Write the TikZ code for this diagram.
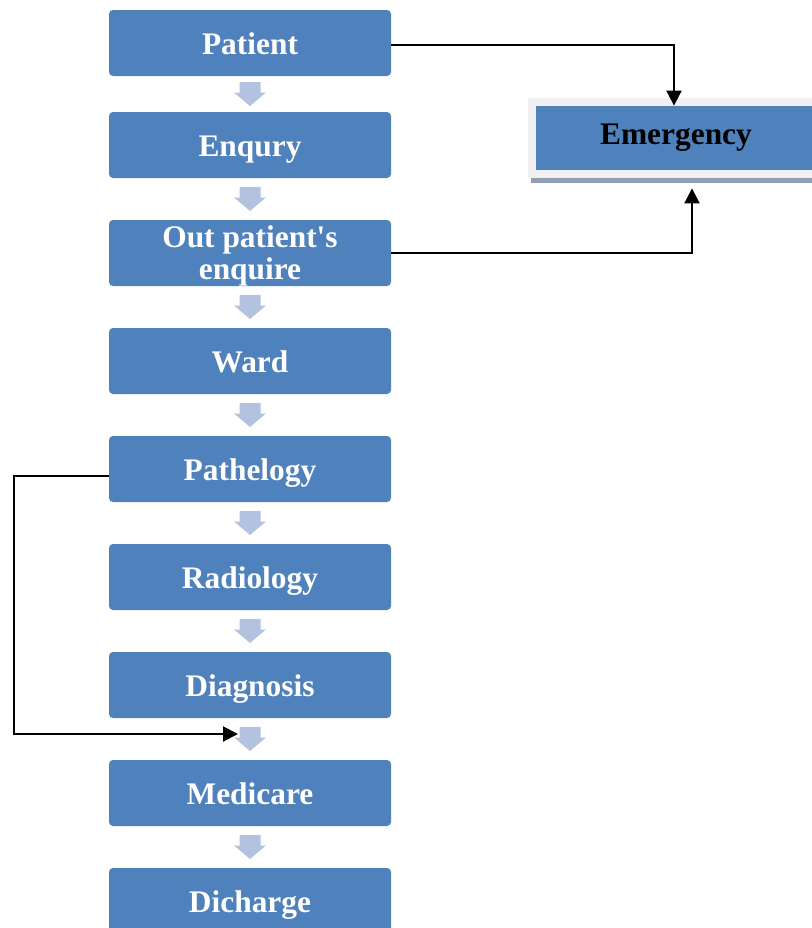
\documentclass[tikz,border=0pt]{standalone}
\usepackage{fontspec}
\setmainfont{Liberation Serif}
\usetikzlibrary{arrows.meta, positioning, calc}
\definecolor{boxblue}{HTML}{4F81BD}
\definecolor{arrblue}{HTML}{B3C3DF}
\definecolor{framegray}{HTML}{F0F0F0}
\definecolor{shadegray}{HTML}{929FB2}
\tikzstyle{block} = [rectangle, rounded corners=2pt, minimum width=141pt, minimum height=33pt, inner sep=1pt, text height=11pt, text depth=0pt, text centered, align=center, fill=boxblue, text=white, font=\fontsize{15.7}{16}\selectfont\bfseries]
\tikzstyle{connector} = [line width=1pt, -{Triangle[length=7.5pt,width=7.5pt]}]
\tikzset{downarrow/.pic={\fill[arrblue] (-5.25pt,6pt) -- (5.25pt,6pt) -- (5.25pt,0.75pt) -- (8pt,0.75pt) -- (0pt,-6pt) -- (-8pt,0.75pt) -- (-5.25pt,0.75pt) -- cycle;}}

\begin{document}
\begin{tikzpicture}[x=0.5pt, y=-0.5pt, node distance=20.6pt]
            \useasboundingbox (0,0) rectangle (812,928);
            \clip (0,0) rectangle (812,928);

            \node (step1) [block] at (250,43) {Patient};
            \node (step2) [block, below=17.6pt of step1] {Enqury};
            \node (step3) [block, text height={}, below=of step2] {Out patient\textquotesingle s\\enquire};
            \node (step4) [block, below=of step3] {Ward};
            \node (step5) [block, below=of step4] {Pathelogy};
            \node (step6) [block, below=of step5] {Radiology};
            \node (step7) [block, below=of step6] {Diagnosis};
            \node (step8) [block, below=of step7] {Medicare};
            \node (step9) [block, below=of step8] {Dicharge};

            \coordinate (a1) at ($(step1.south)!0.5!(step2.north)$);
            \coordinate (a2) at ($(step2.south)!0.5!(step3.north)$);
            \coordinate (a3) at ($(step3.south)!0.5!(step4.north)$);
            \coordinate (a4) at ($(step4.south)!0.5!(step5.north)$);
            \coordinate (a5) at ($(step5.south)!0.5!(step6.north)$);
            \coordinate (a6) at ($(step6.south)!0.5!(step7.north)$);
            \coordinate (a7) at ($(step7.south)!0.5!(step8.north)$);
            \coordinate (a8) at ($(step8.south)!0.5!(step9.north)$);
            \pic at (a1) {downarrow};
            \pic at (a2) {downarrow};
            \pic at (a3) {downarrow};
            \pic at (a4) {downarrow};
            \pic at (a5) {downarrow};
            \pic at (a6) {downarrow};
            \pic at (a7) {downarrow};
            \pic at (a8) {downarrow};

            \node (emerg) [block, sharp corners, minimum width=140pt, minimum height=32pt, text depth=5pt, text=black, preaction={draw=framegray, line width=8pt}] at (676,138) {Emergency};
            \fill [shadegray] ([xshift=-2.5pt,yshift=-4pt]emerg.south west) rectangle ([xshift=10pt,yshift=-6.5pt]emerg.south east);

            \draw [connector] ([yshift=-1pt]step1.east) -| ([xshift=-1pt]emerg.north);
            \draw [connector] (step3.east) -| ([xshift=8pt,yshift=-9pt]emerg.south);
            \draw [connector] ([yshift=-3.5pt]step5.west) -- ++(-47.5pt,0) |- ([xshift=-6pt,yshift=2.5pt]a7);
        \end{tikzpicture}
\end{document}
